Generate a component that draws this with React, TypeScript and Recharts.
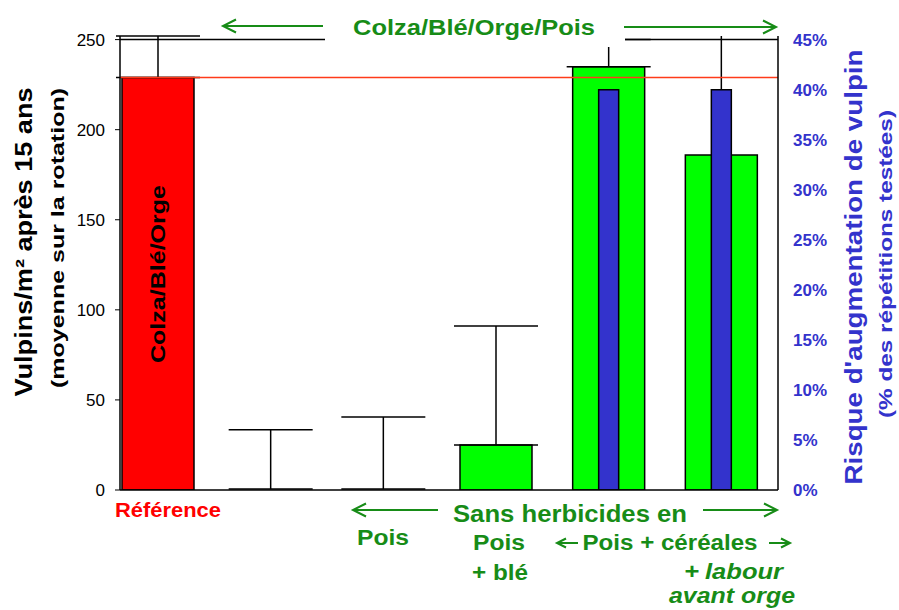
import React from 'react';
import { BarChart, Bar, XAxis, YAxis, Cell, ErrorBar, ReferenceLine } from 'recharts';

// treatments, left to right
const categories = [
  'Référence',
  'Colza/Blé/Orge/Pois',
  'Pois',
  'Pois + blé',
  'Pois + céréales',
  'Pois + céréales + labour avant orge',
];
// vulpins/m² after 15 years (left axis); the two near-zero bars are not visible
const vulpins = [229, 0.5, 0.5, 25, 235, 186];
// upper error (vulpins/m²)
const vulpinsErr = [23, 33, 40, 66, 15, 0];
// risk of vulpin increase, % of tested repetitions (right axis)
const risque = [null, null, null, null, 40, 40];
const risqueErr = [0, 0, 0, 0, 0, 5.36];

const leftTicks = [0, 50, 100, 150, 200, 250];
const rightTicks = [0, 5, 10, 15, 20, 25, 30, 35, 40, 45];

const W = 899;
const H = 610;
const GREEN_TXT = '#178c17';
const BLUE = '#3333cc';
const FONT = 'Liberation Sans, Arial, sans-serif';

const data = categories.map((name, i) => ({
  name,
  vulpins: vulpins[i],
  errV: vulpinsErr[i] ? [0, vulpinsErr[i]] : null,
  risque: risque[i],
  errR: risqueErr[i] ? [0, risqueErr[i]] : null,
}));

const xPad = { left: -18, right: 0 };

const Arrow = ({ x1, x2, y, dir, head = 13 }: { x1: number; x2: number; y: number; dir: 'l' | 'r'; head?: number }) => {
  const tip = dir === 'l' ? x1 : x2;
  const s = dir === 'l' ? 1 : -1;
  const h = head / 2;
  return (
    <g stroke={GREEN_TXT} strokeWidth={2} fill="none">
      <line x1={x1} y1={y} x2={x2} y2={y} />
      <polyline points={`${tip + s * head},${y - h} ${tip},${y} ${tip + s * head},${y + h}`} />
    </g>
  );
};

// text stretched to the measured span
const T = ({ x, y, len, size, fill, children, rot, italic }: any) => (
  <text
    x={rot ? 0 : x}
    y={rot ? 0 : y}
    transform={rot ? `translate(${x},${y}) rotate(-90)` : undefined}
    textAnchor="middle"
    fontSize={size}
    fill={fill}
    fontStyle={italic ? 'italic' : undefined}
    textLength={len}
    lengthAdjust="spacingAndGlyphs"
  >
    {children}
  </text>
);

const Overlay = () => (
  <svg
    width={W}
    height={H}
    style={{ position: 'absolute', left: 0, top: 0, pointerEvents: 'none' }}
    fontFamily={FONT}
    fontWeight="bold"
  >
    {/* title box hides top frame */}
    <rect x={325} y={0} width={300} height={47} fill="#fff" />
    <T x={474} y={35} len={242} size={22} fill={GREEN_TXT}>Colza/Blé/Orge/Pois</T>
    <Arrow x1={223} x2={323} y={26} dir="l" />
    <Arrow x1={624} x2={776} y={27} dir="r" />

    {/* axis titles */}
    <T rot x={32} y={242} len={309} size={23} fill="#000">Vulpins/m² après 15 ans</T>
    <T rot x={64} y={238} len={300} size={19} fill="#000">(moyenne sur la rotation)</T>
    <T rot x={862} y={267} len={435} size={23} fill={BLUE}>Risque d'augmentation de vulpin</T>
    <T rot x={892} y={264} len={308} size={19} fill={BLUE}>(% des répétitions testées)</T>

    {/* label inside the reference bar */}
    <T rot x={165} y={274} len={178} size={20} fill="#000">Colza/Blé/Orge</T>

    {/* bottom labels */}
    <T x={168} y={517} len={106} size={19.5} fill="#ff0000">Référence</T>
    <Arrow x1={353} x2={438} y={510} dir="l" />
    <T x={570} y={522} len={234} size={23} fill={GREEN_TXT}>Sans herbicides en</T>
    <Arrow x1={703} x2={777} y={510} dir="r" />
    <T x={383} y={545} len={52} size={22} fill={GREEN_TXT}>Pois</T>
    <T x={499} y={550} len={52} size={22} fill={GREEN_TXT}>Pois</T>
    <T x={500} y={580} len={56} size={22} fill={GREEN_TXT}>+ blé</T>
    <Arrow x1={557} x2={578} y={543} dir="l" head={9} />
    <T x={670} y={550} len={175} size={22} fill={GREEN_TXT}>Pois + céréales</T>
    <Arrow x1={769} x2={790} y={543} dir="r" head={9} />
    <T x={692} y={579} len={15} size={22} fill={GREEN_TXT}>+</T>
    <T x={744} y={579} len={78} size={22} fill={GREEN_TXT} italic>labour</T>
    <T x={732} y={603} len={126} size={22} fill={GREEN_TXT} italic>avant orge</T>
  </svg>
);

export default function App() {
  return (
    <div style={{ position: 'relative', width: W, height: H, background: '#fff' }}>
      <style>{`body{margin:0}`}</style>
      <BarChart
        width={W}
        height={H}
        data={data}
        margin={{ top: 36, right: 0, bottom: 90, left: 0 }}
      >
        <XAxis
          dataKey="name"
          xAxisId="a"
          padding={xPad}
          tick={false}
          tickLine={false}
          height={30}
          axisLine={{ stroke: '#000', strokeWidth: 1.5 }}
        />
        <XAxis dataKey="name" xAxisId="b" padding={xPad} hide />
        <YAxis
          yAxisId="left"
          domain={[0, 252]}
          allowDataOverflow
          ticks={leftTicks}
          width={120}
          tickSize={5}
          tickMargin={10}
          tick={{ fill: '#000', fontSize: 17, fontFamily: FONT }}
          axisLine={{ stroke: '#000', strokeWidth: 1.5 }}
          tickLine={{ stroke: '#000' }}
        />
        <YAxis
          yAxisId="right"
          orientation="right"
          domain={[0, 45.36]}
          allowDataOverflow
          ticks={rightTicks}
          width={121}
          tickLine={false}
          tickMargin={9}
          tickFormatter={(v: number) => `${v}%`}
          tick={{ fill: BLUE, fontSize: 17, fontWeight: 'bold', fontFamily: FONT }}
          axisLine={{ stroke: '#000', strokeWidth: 1.5 }}
        />
        <ReferenceLine yAxisId="left" xAxisId="a" y={250} stroke="#000" strokeWidth={1.5} />
        <Bar
          dataKey="vulpins"
          xAxisId="a"
          yAxisId="left"
          barSize={72}
          stroke="#000"
          strokeWidth={1.5}
          isAnimationActive={false}
        >
          {data.map((d, i) => (
            <Cell
              key={d.name}
              fill={i === 0 ? '#ff0000' : d.vulpins < 1 ? 'none' : '#00ff00'}
              stroke={d.vulpins < 1 ? 'none' : '#000'}
            />
          ))}
          <ErrorBar dataKey="errV" width={42} stroke="#000" strokeWidth={1.5} />
        </Bar>
        <Bar
          dataKey="risque"
          xAxisId="b"
          yAxisId="right"
          barSize={20}
          fill={BLUE}
          stroke="#000"
          strokeWidth={1.5}
          isAnimationActive={false}
        >
          <ErrorBar dataKey="errR" width={0} stroke="#000" strokeWidth={1.5} />
        </Bar>
        <ReferenceLine
          yAxisId="left"
          xAxisId="a"
          y={vulpins[0]}
          stroke="#ff3b1a"
          strokeWidth={1.5}
        />
      </BarChart>
      <Overlay />
    </div>
  );
}
